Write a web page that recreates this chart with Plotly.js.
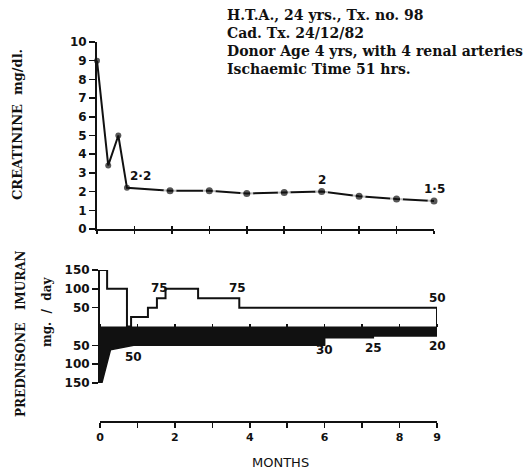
<!DOCTYPE html>
<html>
<head>
<meta charset="utf-8">
<script src="https://cdn.plot.ly/plotly-3.0.1.min.js"></script>
<style>
  html, body { margin: 0; padding: 0; background: #fff; }
  #chart { width: 530px; height: 469px; }
</style>
</head>
<body>
<div id="chart"></div>
<script>
// Serum creatinine (mg/dl) by month after transplant
const creatMonths = [0, 0.3, 0.57, 0.8, 1.95, 3, 4, 5, 6, 7, 8, 9];
const creatValues = [9, 3.4, 5.0, 2.2, 2.05, 2.05, 1.9, 1.95, 2, 1.75, 1.6, 1.5];
const creatLabelIdx = [3, 8, 11];

// Prednisone: month each dose level starts, and the dose (mg/day)
const predMonths = [0, 0.19, 0.72, 0.83, 1.28, 1.52, 1.75, 2.62, 3.72];
const predDose   = [150, 100, 0, 25, 50, 75, 100, 75, 50];
const predLabelMonths = [1.6, 3.66, 9];

// Imuran dose (mg/day)
const imuranMonths = [0, 0.05, 0.28, 0.9, 6, 6, 7.3, 7.3, 9, 9];
const imuranDose   = [150, 150, 62, 50, 50, 30, 30, 25, 25, 20];
const imuranLabelIdx = [3, 5, 7, 9];

const followUpEnd = 9;
const monthTicks = [0, 1, 2, 3, 4, 5, 6, 7, 8, 9];
const monthTickText = ['0', '', '2', '', '4', '', '6', '', '8', '9'];
const creatTicks = [0, 1, 2, 3, 4, 5, 6, 7, 8, 9, 10];
const doseTicks = [150, 100, 50, -50, -100, -150];
const doseTickText = ['150', '100', '50', '50', '100', '150'];

const headerLines = [
  'H.T.A., 24 yrs., Tx. no. 98',
  'Cad. Tx. 24/12/82',
  'Donor Age 4 yrs, with 4 renal arteries',
  'Ischaemic Time 51 hrs.'
];

// page geometry helpers (paper fractions from pixel positions)
const W = 530, H = 469;
const px = x => x / W;
const py = y => 1 - y / H;

const INK = '#111';
const tickFont = { family: 'DejaVu Sans', size: 12, color: INK, weight: 'bold' };
const serifBold = { family: 'DejaVu Serif', size: 14, color: INK, weight: 'bold' };

const fmt = v => String(v).replace('.', '\u00B7');

// dots after the early fall get a white halo so the joining line stops short of them
const halo = creatValues.map((_, i) => i >= 4);

const traces = [
  {
    x: creatMonths, y: creatValues, xaxis: 'x', yaxis: 'y',
    mode: 'lines+markers', cliponaxis: false, hoverinfo: 'skip',
    line: { color: INK, width: 2 },
    marker: {
      color: INK,
      size: halo.map(h => h ? 10 : 6),
      line: { color: halo.map(h => h ? '#fff' : INK), width: halo.map(h => h ? 3 : 0) }
    }
  },
  {
    x: imuranMonths, y: imuranDose.map(v => -v), xaxis: 'x2', yaxis: 'y2',
    mode: 'lines', fill: 'tozeroy', fillcolor: INK, cliponaxis: false, hoverinfo: 'skip',
    line: { color: INK, width: 1.5 }
  },
  {
    x: predMonths.concat([followUpEnd, followUpEnd]),
    y: predDose.concat([predDose[predDose.length - 1], 0]),
    xaxis: 'x2', yaxis: 'y2', mode: 'lines', cliponaxis: false, hoverinfo: 'skip',
    line: { color: INK, width: 2, shape: 'hv' }
  },
  // carriers for the MONTHS scale and the upward half of the creatinine ticks
  { x: [], y: [], xaxis: 'x3', yaxis: 'y2', mode: 'lines', hoverinfo: 'skip' },
  { x: [], y: [], xaxis: 'x4', yaxis: 'y', mode: 'lines', hoverinfo: 'skip' }
];

const baseAxis = {
  showgrid: false, zeroline: false, fixedrange: true,
  linecolor: INK, tickcolor: INK
};

function doseAt(m) {
  let i = 0;
  for (let k = 0; k < predMonths.length; k++) if (predMonths[k] <= m) i = k;
  return predDose[i];
}

const annotations = [];
headerLines.forEach((t, i) => {
  annotations.push({
    text: t, xref: 'paper', yref: 'paper', x: px(225), y: py(15 + 18 * i),
    xanchor: 'left', yanchor: 'middle', showarrow: false, font: serifBold
  });
});
const sideTitle = (text, x, y, size) => ({
  text: text, xref: 'paper', yref: 'paper', x: px(x), y: py(y),
  xanchor: 'center', yanchor: 'middle', textangle: -90, showarrow: false,
  font: Object.assign({}, serifBold, { size: size })
});
annotations.push(
  sideTitle('CREATININE  mg/dl.', 18, 125, 13),
  sideTitle('PREDNISONE   IMURAN', 21, 334, 12),
  sideTitle('mg.  /  day', 47, 312, 12),
  { text: 'MONTHS', xref: 'paper', yref: 'paper', x: px(280), y: py(462),
    xanchor: 'center', yanchor: 'middle',
    showarrow: false, font: { family: 'DejaVu Sans', size: 13, color: INK } }
);
creatLabelIdx.forEach(i => {
  annotations.push({
    text: fmt(creatValues[i]), xref: 'x', yref: 'y', x: creatMonths[i], y: creatValues[i],
    xanchor: i === 3 ? 'left' : 'center', yanchor: 'bottom', xshift: i === 3 ? 1 : 0, yshift: 3,
    showarrow: false, font: tickFont
  });
});
predLabelMonths.forEach(m => {
  annotations.push({
    text: String(doseAt(m)), xref: 'x2', yref: 'y2', x: m, y: doseAt(m),
    xanchor: 'center', yanchor: 'bottom', yshift: 1, showarrow: false, font: tickFont
  });
});
imuranLabelIdx.forEach(i => {
  annotations.push({
    text: String(imuranDose[i]), xref: 'x2', yref: 'y2', x: imuranMonths[i], y: -imuranDose[i],
    xanchor: 'center', yanchor: 'top', yshift: -3, showarrow: false, font: tickFont
  });
});

const layout = {
  width: W, height: H,
  margin: { l: 0, r: 0, t: 0, b: 0 },
  paper_bgcolor: '#fff', plot_bgcolor: 'rgba(0,0,0,0)',
  showlegend: false,
  xaxis: Object.assign({}, baseAxis, {
    domain: [px(97), px(434)], range: [0, followUpEnd], anchor: 'y',
    showline: true, linewidth: 2, ticks: 'outside', ticklen: 3, tickwidth: 1.5,
    tickmode: 'array', tickvals: monthTicks, showticklabels: false
  }),
  xaxis4: Object.assign({}, baseAxis, {
    overlaying: 'x', anchor: 'y', range: [0, followUpEnd],
    showline: false, ticks: 'inside', ticklen: 3, tickwidth: 1.5,
    tickmode: 'array', tickvals: monthTicks, showticklabels: false
  }),
  yaxis: Object.assign({}, baseAxis, {
    domain: [py(229), py(42)], range: [0, 10], anchor: 'x',
    showline: true, linewidth: 2, ticks: 'outside', ticklen: 6, tickwidth: 1.5,
    tickmode: 'array', tickvals: creatTicks, tickfont: tickFont
  }),
  xaxis2: Object.assign({}, baseAxis, {
    domain: [px(100), px(437)], range: [0, followUpEnd], anchor: 'free',
    position: py(326.5), side: 'top',
    showline: true, linewidth: 1.5, ticks: 'outside', ticklen: 3, tickwidth: 1.5,
    tickmode: 'array', tickvals: monthTicks, showticklabels: false
  }),
  yaxis2: Object.assign({}, baseAxis, {
    domain: [py(383), py(270)], range: [-150, 150], anchor: 'x2',
    showline: true, linewidth: 2, ticks: 'outside', ticklen: 6, tickwidth: 1.5,
    tickmode: 'array', tickvals: doseTicks, ticktext: doseTickText, tickfont: tickFont
  }),
  xaxis3: Object.assign({}, baseAxis, {
    overlaying: 'x2', anchor: 'free', position: py(422), side: 'bottom',
    range: [0, followUpEnd],
    showline: true, linewidth: 2, ticks: 'outside', ticklen: 5, tickwidth: 1.5,
    tickmode: 'array', tickvals: monthTicks, ticktext: monthTickText,
    tickfont: Object.assign({}, tickFont, { size: 11 })
  }),
  annotations: annotations
};

Plotly.newPlot('chart', traces, layout, { staticPlot: true, displayModeBar: false });
</script>
</body>
</html>
